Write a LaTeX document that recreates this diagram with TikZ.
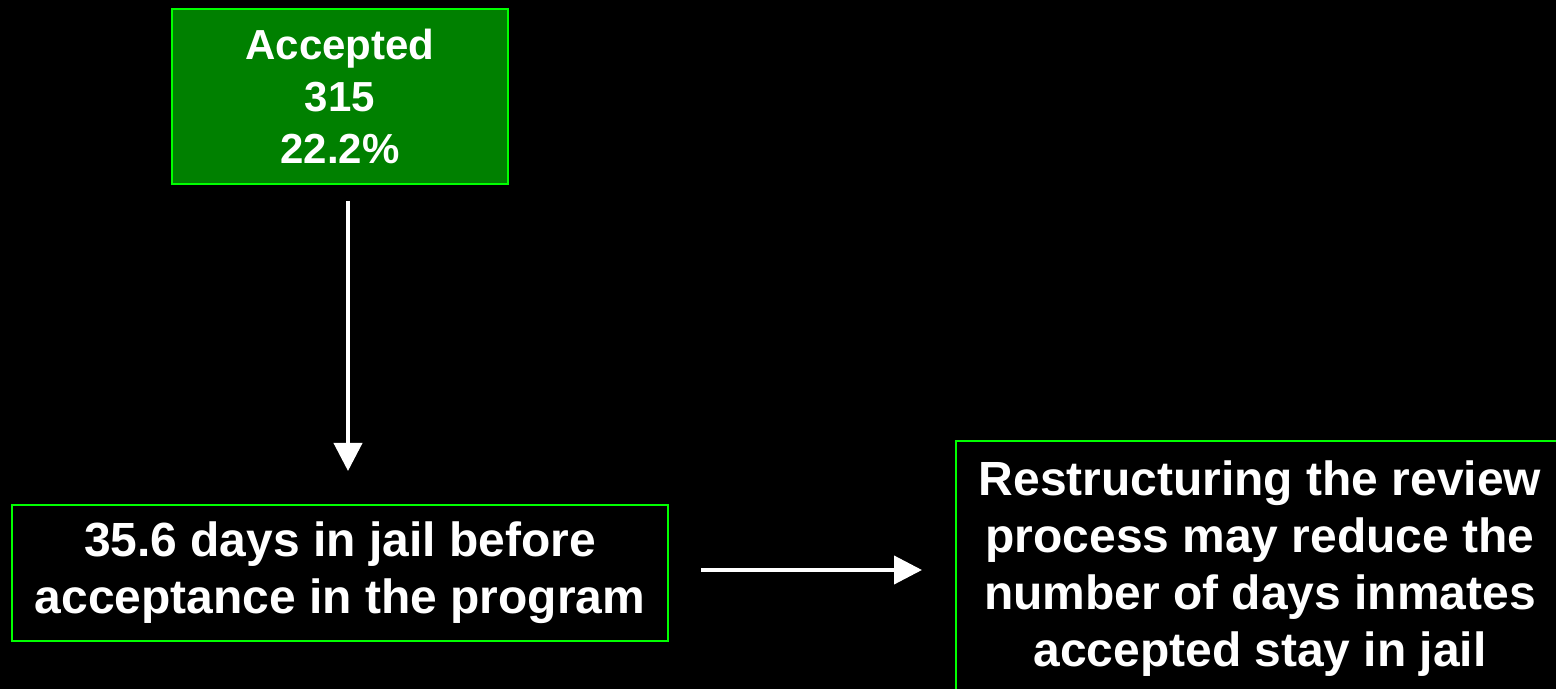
\documentclass[tikz,border=0pt]{standalone}
\usepackage{fontspec}
\setmainfont{Liberation Sans}
\usetikzlibrary{arrows.meta}
\definecolor{boxgreen}{RGB}{0,128,0}
\definecolor{lime}{RGB}{0,255,0}

\begin{document}
\begin{tikzpicture}
	\tikzstyle{cadre}=[draw=lime,line width=0.04cm,inner sep=0pt,align=center,text=white,font=\bfseries]
	\tikzstyle{accepte}=[cadre,fill=boxgreen,minimum width=6.72cm,minimum height=3.5cm]
	\tikzstyle{grand}=[cadre,fill=black,font=\bfseries\fontsize{27.3}{32.4}\selectfont]
	\tikzstyle{fleche}=[white,line width=0.08cm,-{Triangle[length=0.56cm,width=0.56cm]}]
	\useasboundingbox (0,0) rectangle (31.12,-13.78);
	\clip (0,0) rectangle (31.12,-13.78);
	\fill[black] (0,0) rectangle (31.12,-13.78);
	\node[accepte,font=\bfseries\fontsize{23.9}{29.6}\selectfont] (acc) at (6.8,-1.93){Accepted\\315\\22.2\%};
	\node[grand,minimum width=13.12cm,minimum height=2.72cm] (days) at (6.8,-11.46){35.6 days in jail before\\acceptance in the program};
	\node[grand,minimum width=12.16cm,minimum height=5.1cm] (res) at (25.2,-11.37){Restructuring the review\\process may reduce the\\number of days inmates\\accepted stay in jail};
	\draw[fleche] ([xshift=0.16cm,yshift=-0.32cm]acc.south) -- ([xshift=0.16cm,yshift=0.66cm]days.north);
	\draw[fleche,shorten <=0.64cm,shorten >=0.66cm] ([yshift=0.06cm]days.east) -- ([yshift=0.06cm]days.east -| res.west);
\end{tikzpicture}
\end{document}
